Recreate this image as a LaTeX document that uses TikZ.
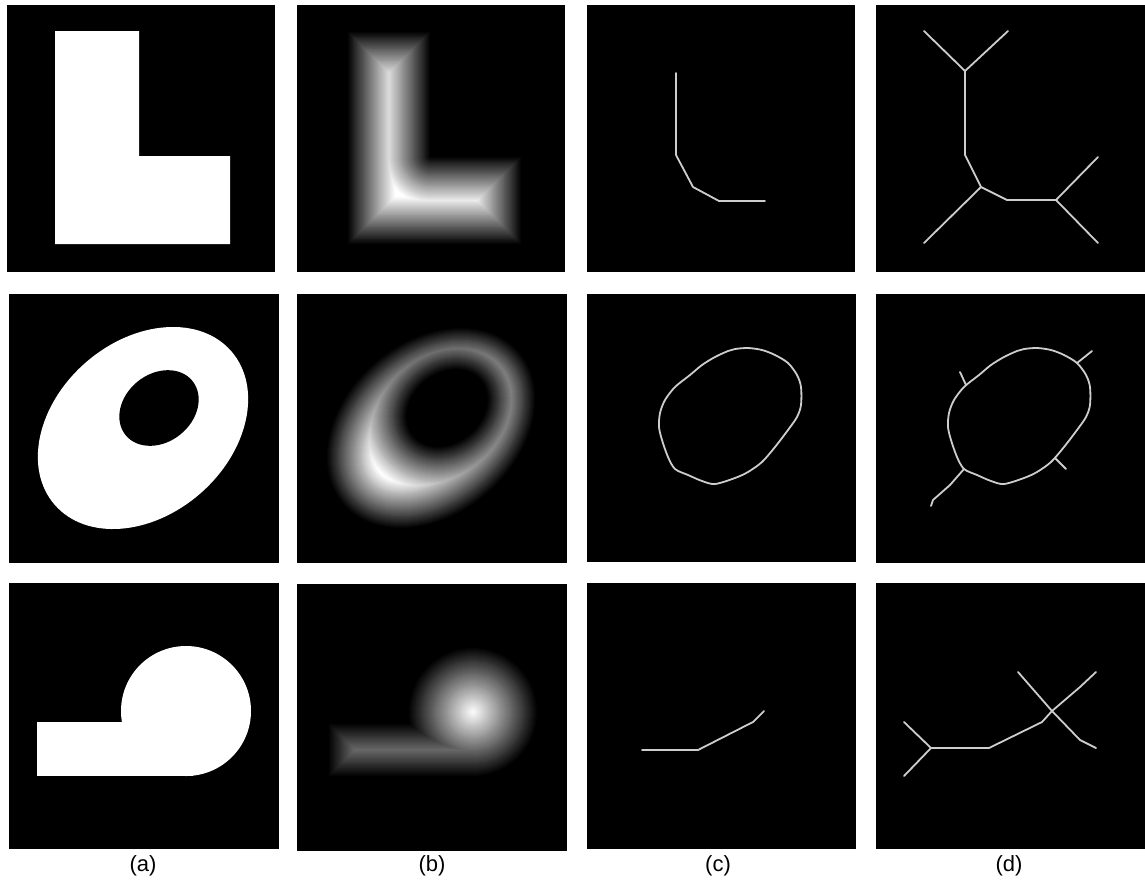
\documentclass[tikz,border=0pt]{standalone}
\usepackage{fontspec}
\setmainfont{Liberation Sans}
\definecolor{skel}{RGB}{205,205,205}
\begin{document}
\begin{tikzpicture}[x=1pt,y=-1pt,
  panel/.style={fill=black},
  skl/.style={draw=skel,line width=1.8pt,line join=round,line cap=round},
  lab/.style={font=\fontsize{22}{26}\selectfont,inner sep=0pt}]
\useasboundingbox (0,0) rectangle (1145,884);
\fill[white] (0,0) rectangle (1145,884);
% ---------- panels ----------
\fill[panel] (7,5) rectangle (275,272);
\fill[panel] (297,5) rectangle (565,272);
\fill[panel] (587,5) rectangle (855,272);
\fill[panel] (876,5) rectangle (1145,272);
\fill[panel] (9,294) rectangle (279,563);
\fill[panel] (297,294) rectangle (567,563);
\fill[panel] (587,294) rectangle (856,562);
\fill[panel] (876,294) rectangle (1145,563);
\fill[panel] (9,583) rectangle (279,849);
\fill[panel] (297,584) rectangle (567,851);
\fill[panel] (587,583) rectangle (856,849);
\fill[panel] (876,583) rectangle (1145,849);
% ---------- row 1 ----------
\fill[white] (55,31) -- (139,31) -- (139,156) -- (230,156) -- (230,244) -- (55,244) -- cycle;
\foreach \d in {1,...,48}{
  \pgfmathtruncatemacro\p{round(100*\d/48)}
  \begin{scope}
    \clip (347+\d,31+\d) rectangle (522-\d,244-\d);
    \fill[white!\p!black] (330,260) -- (330,20) -- (431-\d,20)
      -- plot[domain=180:90,samples=14] ({431+\d*cos(\x)},{156+\d*sin(\x)})
      -- (530,156+\d) -- (530,260) -- cycle;
  \end{scope}
}
\draw[skl] (676,73) -- (676,155) -- (693,187) -- (719,201) -- (765,201);
\draw[skl] (924,31) -- (965,71) -- (1008,31);
\draw[skl] (965,71) -- (965,155) -- (981,187) -- (1007,200) -- (1056,200) -- (1098,157);
\draw[skl] (1056,200) -- (1098,243);
\draw[skl] (981,187) -- (924,243);
% ---------- row 2 ----------
\fill[white,rotate around={41:(143,428)}] (143,428) ellipse[x radius=117,y radius=87];
\fill[black,rotate around={39:(159,408)}] (159,408) ellipse[x radius=43,y radius=34];
\foreach \d in {1,...,49}{
  \pgfmathtruncatemacro\p{round(100*\d/49)}
  \begin{scope}
    \clip[rotate around={41:(431,428)}] (431,428) ellipse[x radius=117-\d,y radius=87-\d];
    \fill[white!\p!black,even odd rule] (297,294) rectangle (567,563)
      [rotate around={39:(447,408)}] (447,408) ellipse[x radius=43+\d,y radius=34+\d];
  \end{scope}
}
\draw[skl] plot[smooth cycle,tension=0.5] coordinates {(735,349) (748,348) (762,350) (775,355) (788,363) (797,375) (801,387) (801,405) (797,417) (788,430) (775,447) (762,462) (748,472) (735,478) (715,484) (702,481) (688,475) (675,469) (668,457) (662,440) (659,427) (660,413) (665,400) (675,387) (690,375) (702,365) (715,357) (728,351)};
\begin{scope}[shift={(289,0)}]
\draw[skl] plot[smooth cycle,tension=0.5] coordinates {(735,349) (748,348) (762,350) (775,355) (788,363) (797,375) (801,387) (801,405) (797,417) (788,430) (775,447) (762,462) (748,472) (735,478) (715,484) (702,481) (688,475) (675,469) (668,457) (662,440) (659,427) (660,413) (665,400) (675,387) (690,375) (702,365) (715,357) (728,351)};
\end{scope}
\draw[skl] (966,385) -- (960,372);
\draw[skl] (1077,363) -- (1092,351);
\draw[skl] (1055,458) -- (1066,469);
\draw[skl] (964,469) -- (950,485) -- (933,500) -- (931,506);
% ---------- row 3 ----------
\fill[white] (186,711) circle[radius=65];
\fill[white] (37,722) rectangle (193,776);
\foreach \d in {1,...,64}{
  \pgfmathtruncatemacro\p{round(100*\d/65)}
  \fill[white!\p!black] (473,712) circle[radius=65-\d];
  \ifnum\d<27 \fill[white!\p!black] (328+\d,723+\d) rectangle (473,777-\d);\fi
}
\draw[skl] (642,750) -- (698,750) -- (753,722) -- (764,711);
\draw[skl] (904,722) -- (931,748) -- (904,776);
\draw[skl] (931,748) -- (989,748) -- (1042,722) -- (1052,711);
\draw[skl] (1018,672) -- (1052,711) -- (1080,740) -- (1096,748);
\draw[skl] (1052,711) -- (1080,687) -- (1096,672);
% ---------- labels ----------
\node[lab] (la) at (143,866) {(a)};
\node[lab] (lb) at (432,866) {(b)};
\node[lab] (lc) at (718,866) {(c)};
\node[lab] (ld) at (1009,866) {(d)};
\end{tikzpicture}
\end{document}
